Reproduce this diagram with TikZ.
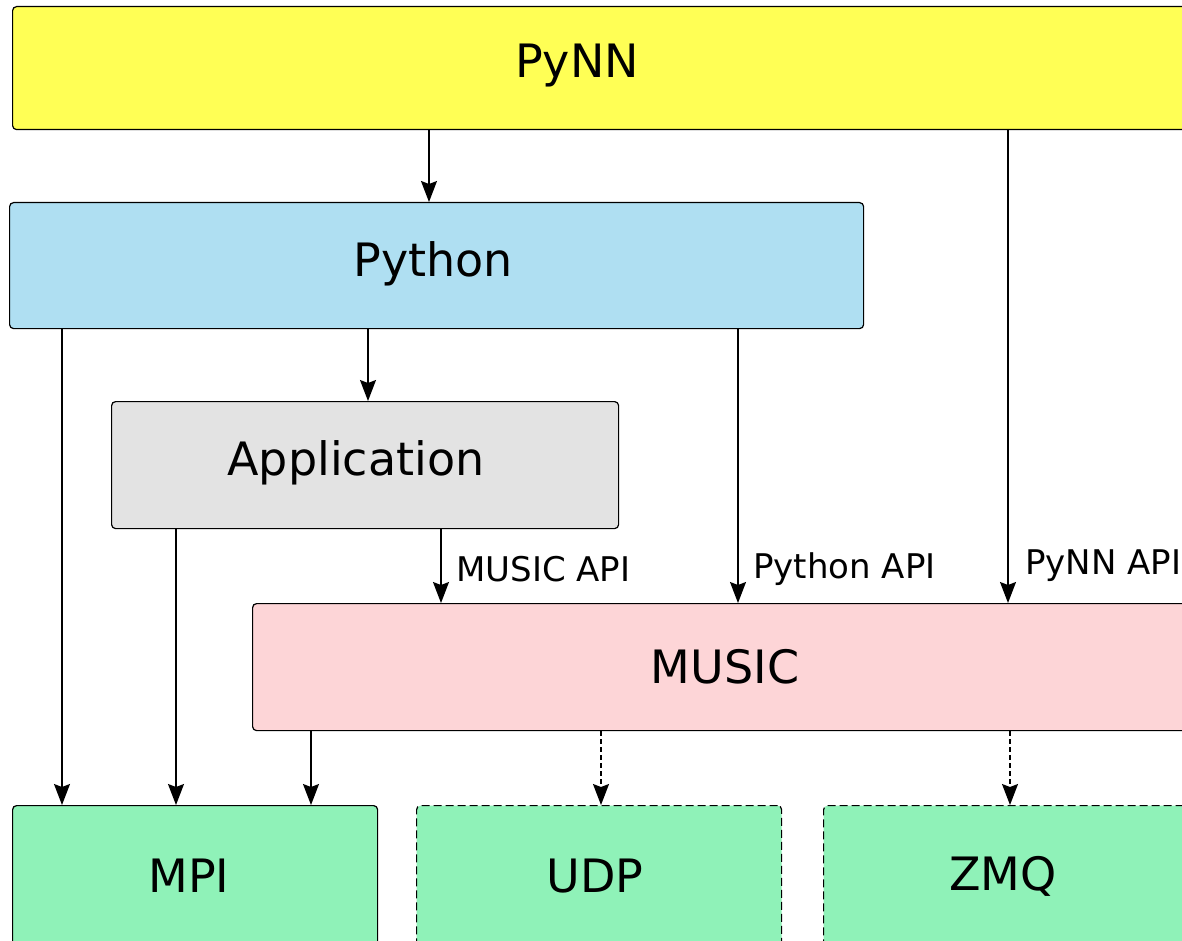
\documentclass[tikz,border=0pt]{standalone}
\usepackage{fontspec}
\setmainfont{DejaVu Sans}
\usetikzlibrary{arrows.meta}
\definecolor{cpynn}{RGB}{255,255,85}
\definecolor{cpython}{RGB}{175,223,242}
\definecolor{capp}{RGB}{227,227,227}
\definecolor{cmusic}{RGB}{253,213,215}
\definecolor{cnet}{RGB}{143,242,184}
\tikzset{
  layer/.style={draw=black, line width=1.2pt, rounded corners=4pt, anchor=north west,
    inner sep=0pt, font=\fontsize{46}{50}\selectfont},
  optional/.style={layer, dash pattern=on 8pt off 4pt},
  big/.style={font=\fontsize{46}{50}\selectfont, inner sep=0pt},
  api/.style={font=\fontsize{34}{38}\selectfont, anchor=west, inner sep=0pt},
  arr/.style={line width=1.3pt, -{Stealth[length=21pt, width=16pt, inset=3pt]}},
  darr/.style={arr, dash pattern=on 5pt off 3pt},
}
\begin{document}
\begin{tikzpicture}[x=1pt, y=-1pt]
\useasboundingbox (0,0) rectangle (1182,941);
\fill[white] (0,0) rectangle (1182,941);
\clip (0,0) rectangle (1182,941);

% layers
\node[layer, fill=cpynn, minimum width=1200pt, minimum height=123pt] (pynn) at (12,6) {};
\node[big] (pynnt) at (577,66) {PyNN};
\node[layer, fill=cpython, minimum width=854pt, minimum height=126pt] (python) at (9,202) {};
\node[big] (pythont) at (433,264) {Python};
\node[layer, fill=capp, minimum width=507pt, minimum height=127pt] (app) at (111,401) {};
\node[big] (appt) at (356,463) {Application};
\node[layer, fill=cmusic, minimum width=960pt, minimum height=127pt] (music) at (252,603) {};
\node[big] (musict) at (725,667) {MUSIC};

% transports
\node[layer, fill=cnet, minimum width=365pt, minimum height=160pt] (mpi) at (12,805) {};
\node[big] (mpit) at (189,876) {MPI};
\node[optional, fill=cnet, minimum width=365pt, minimum height=160pt] (udp) at (416,805) {};
\node[big] (udpt) at (595,876) {UDP};
\node[optional, fill=cnet, minimum width=400pt, minimum height=160pt] (zmq) at (823,805) {};
\node[big] (zmqt) at (1003,876) {ZMQ};

% connector columns
\coordinate (c1) at (429,0);
\coordinate (c2) at (1008,0);
\coordinate (c3) at (368,0);
\coordinate (c4) at (62,0);
\coordinate (c5) at (738,0);
\coordinate (c6) at (176,0);
\coordinate (c7) at (441,0);
\coordinate (c8) at (311,0);
\coordinate (c9) at (601,0);
\coordinate (c10) at (1010,0);

\draw[arr] (pynn.south -| c1) -- (python.north -| c1);
\draw[arr] (pynn.south -| c2) -- (music.north -| c2);
\draw[arr] (python.south -| c3) -- (app.north -| c3);
\draw[arr] (python.south -| c4) -- (mpi.north -| c4);
\draw[arr] (python.south -| c5) -- (music.north -| c5);
\draw[arr] (app.south -| c6) -- (mpi.north -| c6);
\draw[arr] (app.south -| c7) -- (music.north -| c7);
\draw[arr] (music.south -| c8) -- (mpi.north -| c8);
\draw[darr] (music.south -| c9) -- (udp.north -| c9);
\draw[darr] (music.south -| c10) -- (zmq.north -| c10);

% interface labels
\node[api] (lmusic) at (456,569) {MUSIC API};
\node[api] (lpython) at (753,569) {Python API};
\node[api] (lpynn) at (1025,566) {PyNN API};
\end{tikzpicture}
\end{document}
